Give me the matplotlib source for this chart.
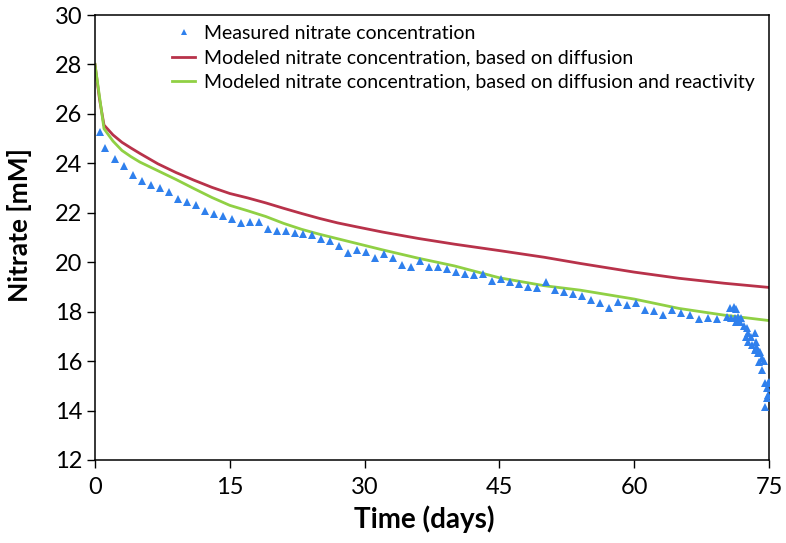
import matplotlib
matplotlib.use("Agg")
import matplotlib.pyplot as plt

# ---- data ----
meas_days = [0.6, 1.1, 2.2, 3.2, 4.2, 5.2, 6.2, 7.2, 8.2, 9.2, 10.2, 11.2, 12.2, 13.2,
             14.2, 15.2, 16.2, 17.2, 18.2, 19.2, 20.2, 21.2, 22.2, 23.2, 24.2, 25.2,
             26.2, 27.2, 28.2, 29.2, 30.2, 31.2, 32.2, 33.2, 34.2, 35.2, 36.2, 37.2,
             38.2, 39.2, 40.2, 41.2, 42.2, 43.2, 44.2, 45.2, 46.2, 47.2, 48.2, 49.2,
             50.2, 51.2, 52.2, 53.2, 54.2, 55.2, 56.2, 57.2, 58.2, 59.2, 60.2, 61.2,
             62.2, 63.2, 64.2, 65.2, 66.2, 67.2, 68.2, 69.2,
             70.3, 70.7, 71.1, 71.3, 70.8, 71.2, 71.6, 71.9, 71.3, 71.8, 72.2, 72.5,
             72.7, 72.4, 73.0, 72.7, 73.4, 73.1, 73.5, 73.7, 73.4, 74.0, 73.6, 73.9,
             73.8, 74.2, 73.9, 74.4, 74.2, 74.5, 74.9, 74.8, 74.9, 74.8, 74.6, 75.0]
meas_nitrate = [25.28, 24.63, 24.16, 23.88, 23.53, 23.30, 23.11, 22.99, 22.83, 22.56,
                22.45, 22.31, 22.06, 21.96, 21.86, 21.75, 21.60, 21.63, 21.63, 21.36,
                21.27, 21.26, 21.19, 21.15, 21.10, 20.94, 20.86, 20.67, 20.38, 20.49,
                20.40, 20.18, 20.32, 20.18, 19.89, 19.82, 20.05, 19.81, 19.82, 19.71,
                19.60, 19.51, 19.47, 19.51, 19.24, 19.31, 19.19, 19.11, 19.01, 18.97,
                19.20, 18.89, 18.79, 18.73, 18.63, 18.48, 18.36, 18.15, 18.39, 18.28,
                18.34, 18.08, 18.03, 17.85, 18.05, 17.95, 17.86, 17.70, 17.75, 17.69,
                17.80, 18.13, 18.20, 18.10, 17.73, 17.73, 17.80, 17.76, 17.59, 17.59,
                17.43, 17.32, 17.12, 16.99, 16.99, 16.79, 17.12, 16.65, 16.79, 16.52,
                16.45, 16.38, 16.52, 16.38, 16.31, 16.11, 15.98, 16.02, 15.64, 15.10,
                15.10, 14.90, 14.63, 14.49, 14.15, 15.17]

model_days = [0, 0.5, 1, 2, 3, 4, 5, 7, 9, 11, 13, 15, 17, 19, 21, 23, 25, 27, 29,
              32, 36, 40, 45, 50, 54, 60, 65, 70, 75]
diffusion = [28.0, 26.6, 25.55, 25.15, 24.85, 24.62, 24.40, 23.98, 23.63, 23.32, 23.03,
             22.78, 22.60, 22.40, 22.18, 21.97, 21.77, 21.59, 21.44, 21.22, 20.96, 20.73,
             20.47, 20.20, 19.95, 19.60, 19.35, 19.15, 18.98]
diff_react = [28.0, 26.7, 25.4, 24.9, 24.52, 24.27, 24.05, 23.70, 23.35, 22.98, 22.62,
              22.30, 22.08, 21.85, 21.57, 21.33, 21.13, 20.95, 20.77, 20.50, 20.16, 19.85,
              19.37, 19.05, 18.87, 18.51, 18.13, 17.86, 17.64]

x_ticks = [0, 15, 30, 45, 60, 75]
y_ticks = [12, 14, 16, 18, 20, 22, 24, 26, 28, 30]

labels = ["Measured nitrate concentration",
          "Modeled nitrate concentration, based on diffusion",
          "Modeled nitrate concentration, based on diffusion and reactivity"]

plt.rcParams['font.family'] = ['Lato', 'DejaVu Sans']

fig = plt.figure(figsize=(7.86, 5.43), dpi=100)
ax = fig.add_axes([95/786, 83/543, 674/786, 445/543])

h1, = ax.plot(meas_days, meas_nitrate, linestyle='none', marker='^', markersize=6,
              color='#2F80ED', markeredgewidth=0, label=labels[0], zorder=3)
h2, = ax.plot(model_days, diffusion, color='#B8324A', linewidth=2.0, label=labels[1], zorder=2)
h3, = ax.plot(model_days, diff_react, color='#90D044', linewidth=2.0, label=labels[2], zorder=2)

ax.set_xlim(0, 75)
ax.set_ylim(12, 30)
ax.set_xticks(x_ticks)
ax.set_yticks(y_ticks)
ax.tick_params(axis='both', direction='out', length=6, width=1, labelsize=17,
               colors='black')
ax.tick_params(axis='x', pad=6)
ax.tick_params(axis='y', pad=3)
for s in ax.spines.values():
    s.set_linewidth(1.1)
    s.set_color('black')

ax.set_xlabel('Time (days)', fontsize=20, fontweight='bold')
ax.set_ylabel('Nitrate [mM]', fontsize=19, fontweight='bold')
ax.xaxis.set_label_coords(0.488, -0.103)
ax.yaxis.set_label_coords(-0.0935, 0.527)

fig.legend(handles=[h1, h2, h3], loc='upper left', bbox_to_anchor=(172/786, 1 - 25/543),
           frameon=False, fontsize=14, borderpad=0, borderaxespad=0,
           handlelength=1.2, handletextpad=0.45, labelspacing=0.38, markerscale=0.75)

fig.savefig('out.png', dpi=100)
